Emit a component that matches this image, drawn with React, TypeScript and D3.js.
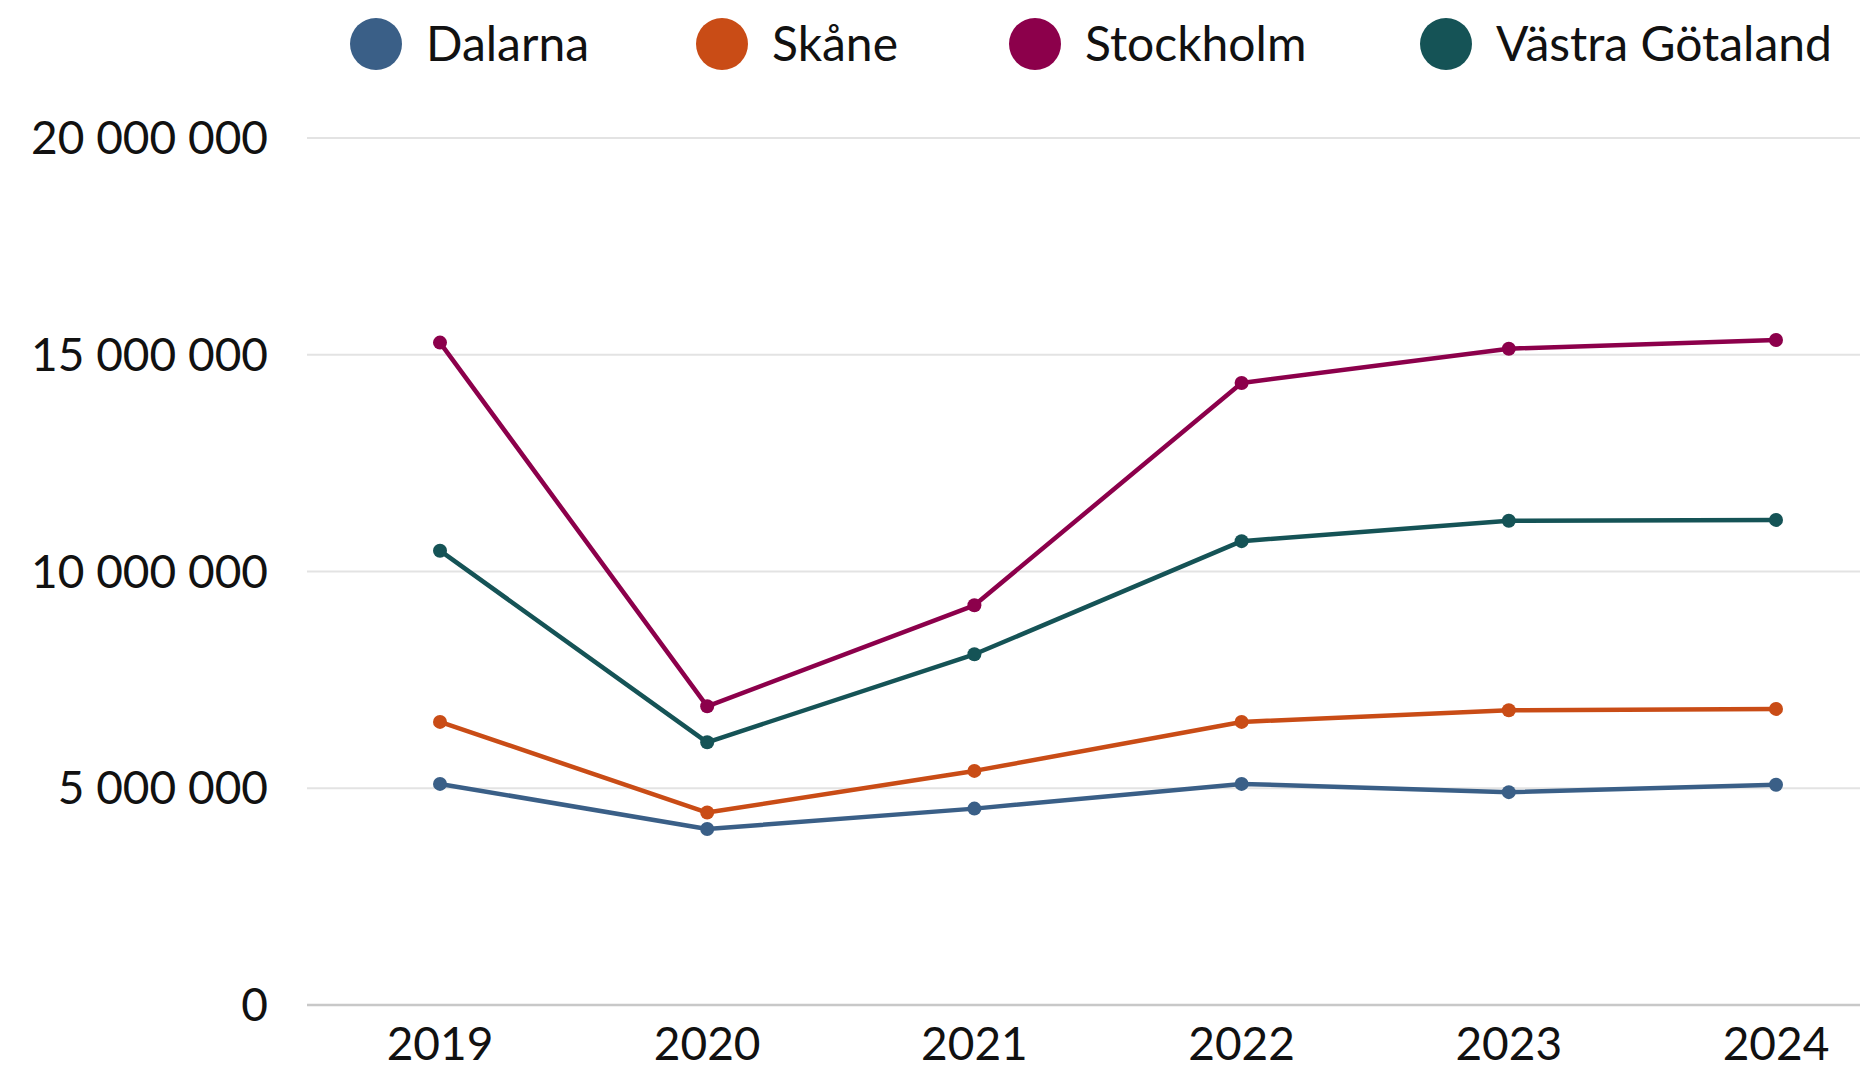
import { useEffect, useRef } from 'react'
import * as d3 from 'd3'

const years = ['2019', '2020', '2021', '2022', '2023', '2024']
const regions = ['Dalarna', 'Skåne', 'Stockholm', 'Västra Götaland']
const colors = ['#3a5f87', '#c94c16', '#8c004b', '#155356']

const dalarna = [5100000, 4060000, 4530000, 5100000, 4910000, 5080000]
const skane = [6530000, 4440000, 5400000, 6530000, 6800000, 6830000]
const stockholm = [15280000, 6890000, 9220000, 14350000, 15140000, 15340000]
const vastraGotaland = [10480000, 6060000, 8090000, 10700000, 11170000, 11190000]

const yTicks = [0, 5000000, 10000000, 15000000, 20000000]

const FONT = 'Lato, "Open Sans", sans-serif'

export default function App() {
  const svgRef = useRef<SVGSVGElement>(null)

  useEffect(() => {
    if (!svgRef.current) return
    const width = 1864
    const height = 1073
    const svg = d3.select(svgRef.current).attr('width', width).attr('height', height)
    svg.selectAll('*').remove()

    const series = [dalarna, skane, stockholm, vastraGotaland]
    const locale = d3.formatLocale({ decimal: ',', thousands: '\u00a0', grouping: [3], currency: ['', ' kr'] })
    const fmt = locale.format(',d')

    const gridLeft = 307
    const gridRight = 1860

    const x = d3.scalePoint<string>().domain(years).range([440, 1776])
    const y = d3.scaleLinear().domain([0, 20000000]).range([1005, 138])

    // grid lines, the zero line a bit darker
    yTicks.forEach(t => {
      svg.append('line')
        .attr('x1', gridLeft).attr('x2', gridRight)
        .attr('y1', y(t)).attr('y2', y(t))
        .attr('stroke', t === 0 ? '#c8c8c8' : '#e3e3e3')
        .attr('stroke-width', t === 0 ? 2.5 : 2)
    })

    // y labels
    yTicks.forEach(t => {
      svg.append('text')
        .attr('x', 268).attr('y', y(t))
        .attr('dy', '0.35em')
        .attr('text-anchor', 'end')
        .attr('font-family', FONT)
        .attr('font-size', 46)
        .attr('fill', '#111')
        .text(fmt(t))
    })

    // x labels
    years.forEach(yr => {
      svg.append('text')
        .attr('x', x(yr) ?? 0).attr('y', 1060)
        .attr('text-anchor', 'middle')
        .attr('font-family', FONT)
        .attr('font-size', 46)
        .attr('fill', '#111')
        .text(yr)
    })

    const line = d3.line<number>()
      .x((_, i) => x(years[i]) ?? 0)
      .y(d => y(d))

    series.forEach((vals, si) => {
      svg.append('path')
        .datum(vals)
        .attr('d', line)
        .attr('fill', 'none')
        .attr('stroke', colors[si])
        .attr('stroke-width', 4.5)
        .attr('stroke-linejoin', 'round')

      vals.forEach((v, i) => {
        svg.append('circle')
          .attr('cx', x(years[i]) ?? 0).attr('cy', y(v))
          .attr('r', 7)
          .attr('fill', colors[si])
      })
    })

    // legend
    const legendX = [376, 722, 1035, 1446]
    regions.forEach((name, i) => {
      svg.append('circle')
        .attr('cx', legendX[i]).attr('cy', 44)
        .attr('r', 26)
        .attr('fill', colors[i])
      svg.append('text')
        .attr('x', legendX[i] + 50).attr('y', 44)
        .attr('dy', '0.35em')
        .attr('font-family', FONT)
        .attr('font-size', 48)
        .attr('fill', '#111')
        .text(name)
    })
  }, [])

  return (
    <svg ref={svgRef} style={{ position: 'absolute', left: 0, top: 0, background: '#fff' }} />
  )
}
